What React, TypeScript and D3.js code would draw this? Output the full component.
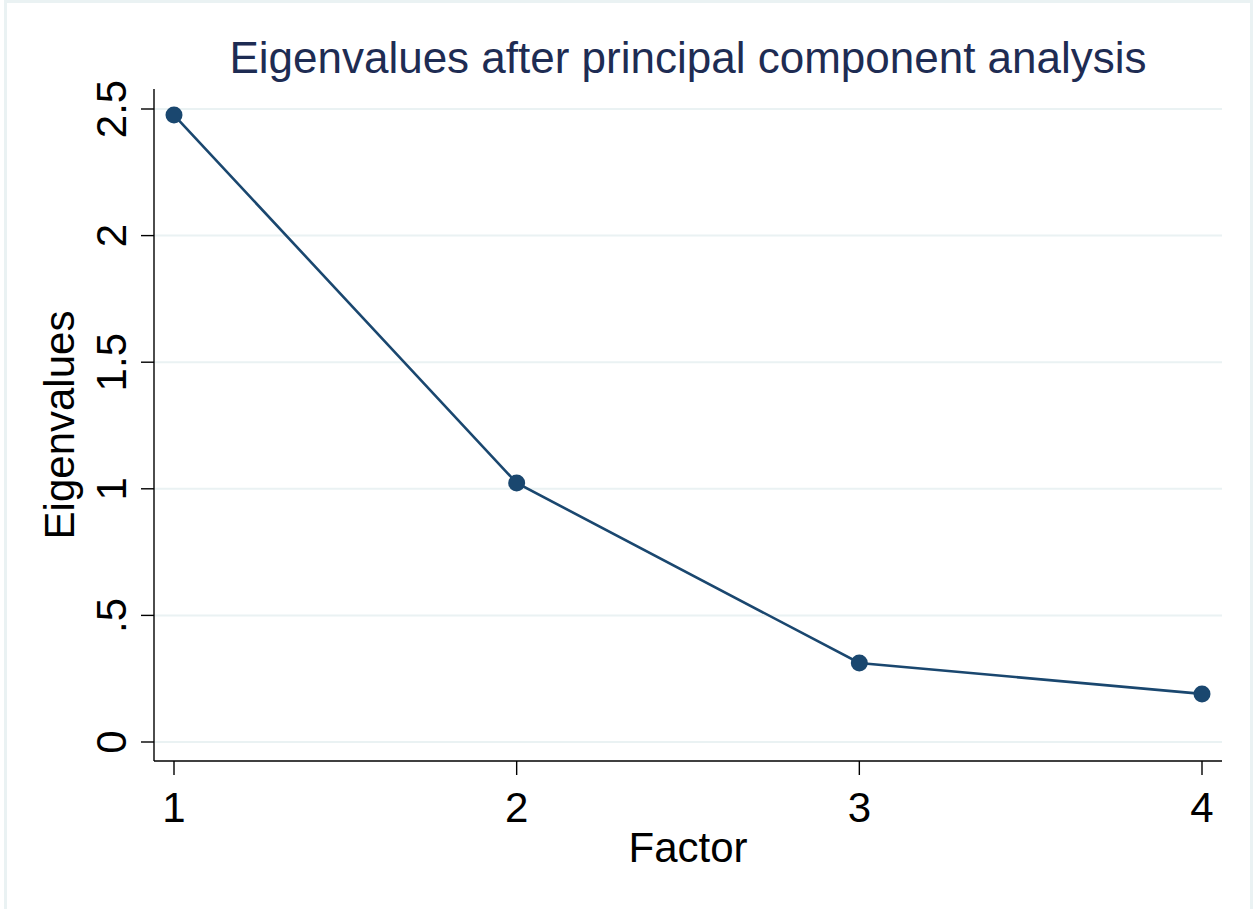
import React from "react";
import * as d3 from "d3";

const factors = [1, 2, 3, 4];
const eigenvalues = [2.476, 1.023, 0.312, 0.19];
const yTicks = [0, 0.5, 1, 1.5, 2, 2.5];
const yTickLabels = ["0", ".5", "1", "1.5", "2", "2.5"];
const xTickLabels = ["1", "2", "3", "4"];

const W = 1255;
const H = 909;
const font = "'Liberation Sans', Arial, sans-serif";
const navy = "#1a476f";
const grid = "#eaf2f3";

const App = () => {
  // plot region
  const left = 154;
  const right = 1222;
  const top = 89;
  const bottom = 761;

  const xScale = d3.scaleLinear().domain([1, 4]).range([left + 20, right - 20]);
  const yScale = d3.scaleLinear().domain([0, 2.5]).range([742, 109]);

  const line = d3
    .line<number>()
    .x((d, i) => xScale(factors[i]))
    .y((d) => yScale(d));

  return (
    <svg
      width={W}
      height={H}
      style={{ position: "absolute", left: 0, top: 0, background: "#fff" }}
    >
      <rect x={5.5} y={1.5} width={1246} height={930} fill="#fff" stroke={grid} strokeWidth={3} />

      <text
        x={(left + right) / 2}
        y={73}
        textAnchor="middle"
        fontFamily={font}
        fontSize={44}
        fill="#1e2c53"
      >
        Eigenvalues after principal component analysis
      </text>

      {/* grid lines */}
      {yTicks.map((t) => (
        <line key={"g" + t} x1={left} x2={right} y1={yScale(t)} y2={yScale(t)} stroke={grid} strokeWidth={2} />
      ))}

      {/* axes */}
      <line x1={left} x2={left} y1={top} y2={bottom} stroke="#000" strokeWidth={1.4} />
      <line x1={left} x2={right} y1={bottom} y2={bottom} stroke="#000" strokeWidth={1.4} />

      {yTicks.map((t, i) => (
        <g key={"y" + t}>
          <line x1={left - 13} x2={left} y1={yScale(t)} y2={yScale(t)} stroke="#000" strokeWidth={1.4} />
          <text
            transform={`translate(${left - 28},${yScale(t)}) rotate(-90)`}
            textAnchor="middle"
            fontFamily={font}
            fontSize={42}
            fill="#000"
          >
            {yTickLabels[i]}
          </text>
        </g>
      ))}

      {factors.map((f, i) => (
        <g key={"x" + f}>
          <line x1={xScale(f)} x2={xScale(f)} y1={bottom} y2={bottom + 14} stroke="#000" strokeWidth={1.4} />
          <text x={xScale(f)} y={822} textAnchor="middle" fontFamily={font} fontSize={42} fill="#000">
            {xTickLabels[i]}
          </text>
        </g>
      ))}

      <text
        transform={`translate(74,${(top + bottom) / 2}) rotate(-90)`}
        textAnchor="middle"
        fontFamily={font}
        fontSize={42}
        fill="#000"
      >
        Eigenvalues
      </text>
      <text x={(left + right) / 2} y={862} textAnchor="middle" fontFamily={font} fontSize={42} fill="#000">
        Factor
      </text>

      <path d={line(eigenvalues) || ""} fill="none" stroke={navy} strokeWidth={2.6} />
      {eigenvalues.map((v, i) => (
        <circle key={"p" + i} cx={xScale(factors[i])} cy={yScale(v)} r={8.5} fill={navy} />
      ))}
    </svg>
  );
};

export default App;
